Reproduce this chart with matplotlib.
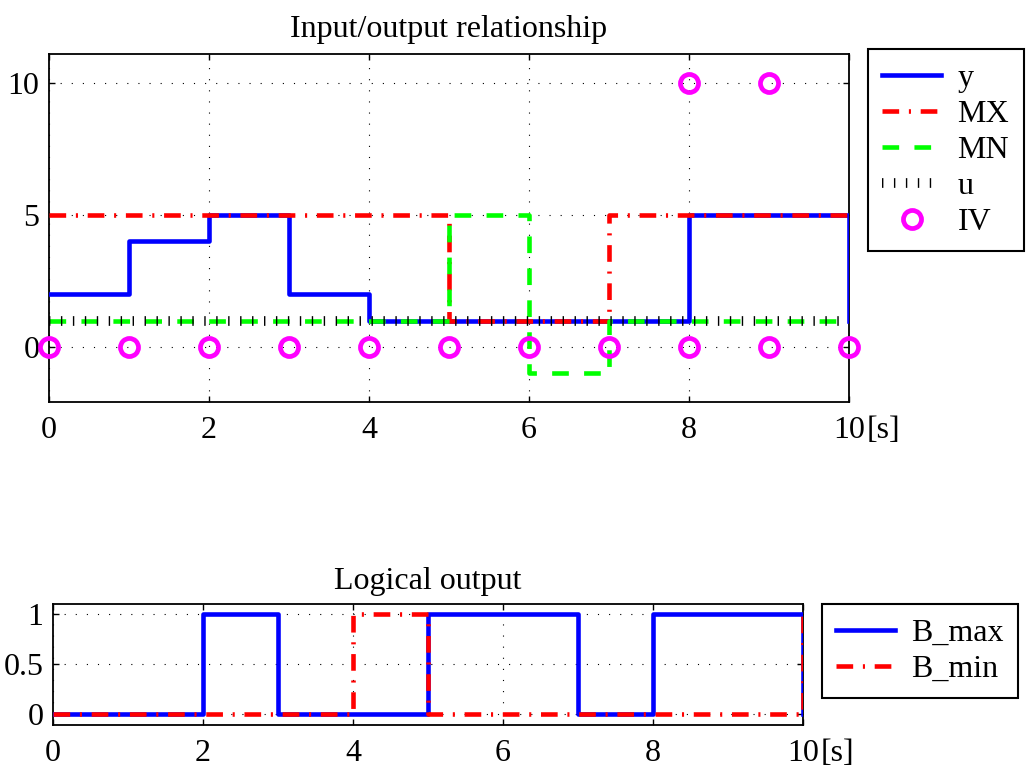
import matplotlib
matplotlib.use("Agg")
import matplotlib.pyplot as plt
import numpy as np

plt.rcParams['font.family'] = ['Liberation Serif', 'DejaVu Serif']
plt.rcParams['font.size'] = 23
plt.rcParams['lines.scale_dashes'] = False

# ---- data ----
t = [0, 1, 2, 3, 4, 5, 6, 7, 8, 9, 10]
y = [2, 4, 5, 2, 1, 1, 1, 1, 5, 5, 1]
MX = [5, 5, 5, 5, 5, 1, 1, 5, 5, 5, 5]
MN = [1, 1, 1, 1, 1, 5, -1, 1, 1, 1, 1]
u = [1, 1, 1, 1, 1, 1, 1, 1, 1, 1, 1]
iv_t = [0, 1, 2, 3, 4, 5, 6, 7, 8, 9, 10, 8, 9]
iv_v = [0, 0, 0, 0, 0, 0, 0, 0, 0, 0, 0, 10, 10]

B_max = [0, 0, 1, 0, 0, 1, 1, 0, 1, 1, 0]
B_min = [0, 0, 0, 0, 1, 0, 0, 0, 0, 0, 1]

xticks = [0, 2, 4, 6, 8, 10]
yticks_top = [0, 5, 10]
yticks_bot = [0, 0.5, 1]
yticklabels_bot = ['0', '0.5', '1']

W, H = 1032, 771
fig = plt.figure(figsize=(W / 100, H / 100), dpi=100)

ax1 = fig.add_axes([49 / W, 1 - 402 / H, 800 / W, 348 / H])
ax2 = fig.add_axes([53 / W, 1 - 725 / H, 750 / W, 121 / H])

dashdot = (0, (12, 7, 1.5, 7))
dashed = (0, (12, 11))
ticks_u = (0, (1.0, 7.6))
grid_ls = (0, (0.8, 7.2))

LW = 3.3
ax1.step(t, y, where='post', color='#0000ff', lw=LW, label='y', zorder=3)
ax1.step(t, MX, where='post', color='#ff0000', lw=LW, ls=dashdot, label='MX', zorder=3)
ax1.step(t, MN, where='post', color='#00ff00', lw=LW, ls=dashed, label='MN', zorder=3)
ax1.step(t, u, where='post', color='black', lw=7, ls=ticks_u, dash_capstyle='butt',
         label='u', zorder=3)
ax1.plot(iv_t, iv_v, ls='none', marker='o', ms=13, mfc='none', mec='#ff00ff', mew=3.4,
         label='IV', zorder=6, clip_on=False)

ax1.set_xlim(0, 10)
ax1.set_ylim(-2.08, 11.1)
ax1.set_xticks(xticks)
ax1.set_yticks(yticks_top)
ax1.set_title('Input/output relationship', fontsize=23, pad=12)

ax2.step(t, B_max, where='post', color='#0000ff', lw=LW, label='B_max', zorder=3)
ax2.step(t, B_min, where='post', color='#ff0000', lw=LW, ls=dashdot, label='B_min', zorder=3)
ax2.set_xlim(0, 10)
ax2.set_ylim(-0.11, 1.1)
ax2.set_xticks(xticks)
ax2.set_yticks(yticks_bot)
ax2.set_yticklabels(yticklabels_bot)
ax2.set_title('Logical output', fontsize=23, pad=11)

for ax in (ax1, ax2):
    ax.grid(True, color='black', lw=0.8, ls=grid_ls)
    ax.tick_params(direction='in', top=True, right=True, length=4.5, width=1,
                   labelsize=23)
    ax.tick_params(axis='x', pad=10)
    ax.tick_params(axis='y', pad=7)
    for s in ax.spines.values():
        s.set_linewidth(1.3)

leg_kw = dict(loc='upper left', bbox_transform=fig.transFigure, fancybox=False,
              edgecolor='black', framealpha=1, borderaxespad=0, handlelength=1.85,
              handletextpad=0.5, labelspacing=0.21, borderpad=0.45, fontsize=23)
leg1 = ax1.legend(bbox_to_anchor=(868 / W, 1 - 49 / H), **leg_kw)
leg1.get_frame().set_linewidth(1.5)
leg2 = ax2.legend(bbox_to_anchor=(822 / W, 1 - 604 / H), **leg_kw)
leg2.get_frame().set_linewidth(1.5)

fig.canvas.draw()
for ax in (ax1, ax2):
    lab = ax.get_xticklabels()[-1]
    bb = lab.get_window_extent()
    fig.text(bb.x1 / W + 2 / W, bb.y1 / H, '[s]', ha='left', va='top', fontsize=23)

fig.savefig('out.png', dpi=100)
